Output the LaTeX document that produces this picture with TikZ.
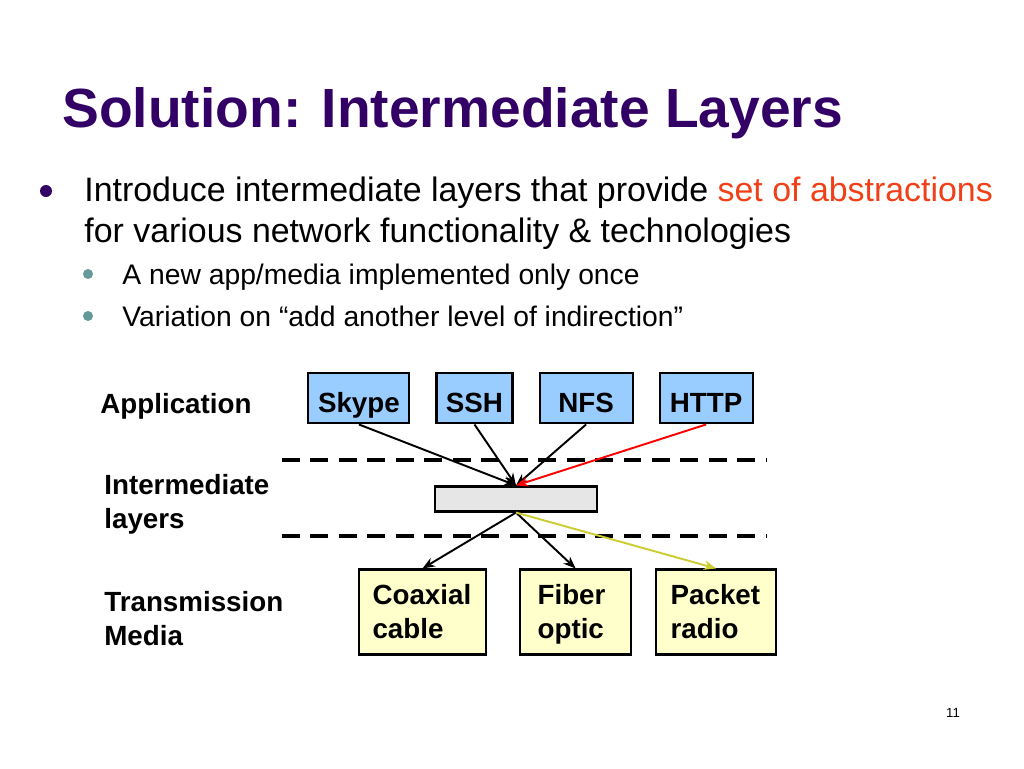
\documentclass[tikz,border=0pt]{standalone}
\usepackage{fontspec}
\setmainfont{Liberation Sans}
\usetikzlibrary{arrows.meta,positioning,matrix}
\definecolor{titlepurple}{RGB}{51,0,102}
\definecolor{accentred}{RGB}{240,64,24}
\definecolor{subteal}{RGB}{102,153,153}
\definecolor{appblue}{RGB}{153,204,255}
\definecolor{mediayellow}{RGB}{255,255,204}
\definecolor{hubgray}{RGB}{230,230,230}
\definecolor{linkolive}{RGB}{204,204,51}

\begin{document}
\begin{tikzpicture}[x=0.02cm, y=-0.02cm,
    txt/.style={inner sep=0, anchor=base west},
    bull/.style={txt, font=\fontsize{19.3}{23}\selectfont},
    subbull/.style={txt, font=\fontsize{16.1}{19}\selectfont},
    lbl/.style={txt, font=\fontsize{15.8}{19}\selectfont\bfseries},
    appbox/.style={draw, line width=1.2pt, fill=appblue, minimum height=1.0cm, text height=16pt, text depth=0pt, font=\fontsize{15.8}{19}\selectfont\bfseries},
    mediabox/.style={draw, line width=1.2pt, fill=mediayellow, minimum height=1.7cm, align=left, text width=#1, execute at begin node={\rule{0pt}{14pt}}, execute at end node={\vphantom{p}}, font=\fontsize{15.8}{19.8}\selectfont\bfseries},
    hubbox/.style={draw, line width=1.2pt, fill=hubgray, minimum width=3.24cm, minimum height=0.5cm},
    layer/.style={line width=2.2pt, dash pattern=on 10.2pt off 6pt},
    link/.style={line width=1.1pt, -{Stealth[length=7pt,width=5.5pt]}}
]
    \useasboundingbox (0,0) rectangle (1024,768);

    \node [txt, text=titlepurple, font=\fontsize{31.4}{36}\selectfont\bfseries] (title) at (62,127) {Solution: Intermediate Layers};

    \fill [titlepurple] (46,191) circle [radius=0.12cm];
    \node [bull] (intro1) at (84,201) {Introduce intermediate layers that provide \textcolor{accentred}{set of abstractions}};
    \node [bull] (intro2) at (84,242) {for various network functionality \& technologies};
    \fill [subteal] (88,274) circle [radius=0.1cm];
    \node [subbull] (once) at (122,284) {A new app/media implemented only once};
    \fill [subteal] (88,316) circle [radius=0.1cm];
    \node [subbull] (indir) at (122,326) {Variation on “add another level of indirection”};

    \draw [layer] (282,460) -- (767,460);
    \draw [layer] (282,536) -- (767,536);

    \matrix (apps) [anchor=north west, inner sep=0, column sep=.5cm, nodes={appbox}] at (307,372)
    {
     \node [minimum width=2.02cm] (skype) {Skype}; & \node [minimum width=1.52cm] (ssh) {SSH}; & \node [minimum width=1.86cm] (nfs) {NFS}; & \node [minimum width=1.86cm] (http) {HTTP}; \\
    };
    \node [lbl] (applbl) at (100,413) {Application};

    \node [hubbox] (hub) at (516,499) {};
    \node [lbl] (midlbl1) at (104,494) {Intermediate};
    \node [lbl] (midlbl2) at (104,528) {layers};

    \node [mediabox=2cm, minimum width=2.54cm] (coax) at (422.5,612) {Coaxial\\cable};
    \node [mediabox=1.52cm, minimum width=2.22cm, right=.64cm of coax] (fiber) {Fiber\\optic};
    \node [mediabox=1.82cm, minimum width=2.4cm, right=.46cm of fiber] (packet) {Packet\\radio};
    \node [lbl] (medlbl1) at (104,611) {Transmission};
    \node [lbl] (medlbl2) at (104,645) {Media};

    \foreach \app in {skype,ssh,nfs}
        \draw [link] (\app.south) -- (hub.north);
    \draw [link, red] (http.south) -- (hub.north);
    \draw [link] (hub.south) -- (coax.north);
    \draw [link] (hub.south) -- (fiber.north);
    \draw [link, linkolive] (hub.south) -- (packet.north);

    \node [font=\fontsize{7.5}{9}\selectfont] (pagenum) at (953,713) {11};
\end{tikzpicture}
\end{document}
